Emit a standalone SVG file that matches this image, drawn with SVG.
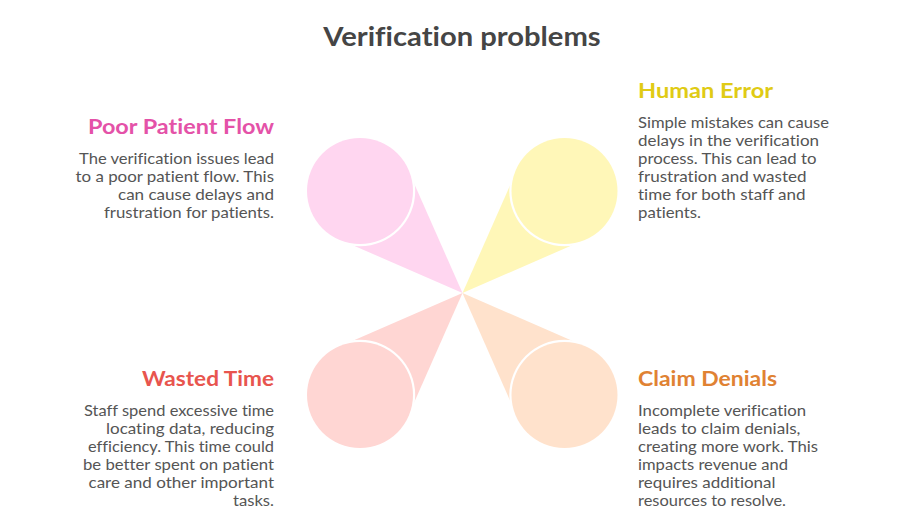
<svg xmlns="http://www.w3.org/2000/svg" width="924" height="519" viewBox="0 0 924 519">
<style>
text{font-family:"Lato","Open Sans",sans-serif;font-variant-ligatures:none}
.t{font-size:26px;font-weight:700;fill:#454545}
.h{font-size:21px;font-weight:700}
.b{font-size:15px;fill:#555}
.r{text-anchor:end}
.ring{fill:#fff}
.pink{fill:#FFD6F0}.yellow{fill:#FFF7B8}.orange{fill:#FFE2CC}.red{fill:#FFD6D3}
</style>
<rect width="924" height="519" fill="#fff"/>
<text class="t" x="323.3" y="46" textLength="277.4" lengthAdjust="spacingAndGlyphs">Verification problems</text>
<g id="connectors">
<polygon class="pink" points="462.5,293 413,181 350,244"/>
<polygon class="yellow" points="462.5,293 512,181 575,244"/>
<polygon class="orange" points="462.5,293 512,405 575,342"/>
<polygon class="red" points="462.5,293 413,405 350,342"/>
</g>
<g id="poor-patient-flow">
<circle class="ring" cx="360" cy="191" r="55.2"/><circle class="pink" cx="360" cy="191" r="53"/>
<text class="h r" x="274" y="133.5" fill="#E452A8" textLength="186" lengthAdjust="spacingAndGlyphs">Poor Patient Flow</text>
<text class="b r" x="274" y="164" textLength="195" lengthAdjust="spacingAndGlyphs">The verification issues lead</text>
<text class="b r" x="274" y="182" textLength="198.5" lengthAdjust="spacingAndGlyphs">to a poor patient flow. This</text>
<text class="b r" x="274" y="200" textLength="156" lengthAdjust="spacingAndGlyphs">can cause delays and</text>
<text class="b r" x="274" y="218" textLength="170" lengthAdjust="spacingAndGlyphs">frustration for patients.</text>
</g>
<g id="human-error">
<circle class="ring" cx="564.5" cy="191" r="55.2"/><circle class="yellow" cx="564.5" cy="191" r="53"/>
<text class="h" x="638" y="97.5" fill="#E0CB15" textLength="135" lengthAdjust="spacingAndGlyphs">Human Error</text>
<text class="b" x="638" y="128" textLength="191" lengthAdjust="spacingAndGlyphs">Simple mistakes can cause</text>
<text class="b" x="638" y="146" textLength="181" lengthAdjust="spacingAndGlyphs">delays in the verification</text>
<text class="b" x="638" y="164" textLength="178.5" lengthAdjust="spacingAndGlyphs">process. This can lead to</text>
<text class="b" x="638" y="182" textLength="168.5" lengthAdjust="spacingAndGlyphs">frustration and wasted</text>
<text class="b" x="638" y="200" textLength="167.5" lengthAdjust="spacingAndGlyphs">time for both staff and</text>
<text class="b" x="638" y="218" textLength="63" lengthAdjust="spacingAndGlyphs">patients.</text>
</g>
<g id="wasted-time">
<circle class="ring" cx="360" cy="395" r="55.2"/><circle class="red" cx="360" cy="395" r="53"/>
<text class="h r" x="274" y="385.5" fill="#E8554E" textLength="132" lengthAdjust="spacingAndGlyphs">Wasted Time</text>
<text class="b r" x="274" y="416" textLength="190" lengthAdjust="spacingAndGlyphs">Staff spend excessive time</text>
<text class="b r" x="274" y="434" textLength="168" lengthAdjust="spacingAndGlyphs">locating data, reducing</text>
<text class="b r" x="274" y="452" textLength="186" lengthAdjust="spacingAndGlyphs">efficiency. This time could</text>
<text class="b r" x="274" y="470" textLength="191" lengthAdjust="spacingAndGlyphs">be better spent on patient</text>
<text class="b r" x="274" y="488" textLength="185.5" lengthAdjust="spacingAndGlyphs">care and other important</text>
<text class="b r" x="274" y="506" textLength="41" lengthAdjust="spacingAndGlyphs">tasks.</text>
</g>
<g id="claim-denials">
<circle class="ring" cx="564.5" cy="395" r="55.2"/><circle class="orange" cx="564.5" cy="395" r="53"/>
<text class="h" x="638" y="385.5" fill="#E08233" textLength="139" lengthAdjust="spacingAndGlyphs">Claim Denials</text>
<text class="b" x="638" y="416" textLength="168" lengthAdjust="spacingAndGlyphs">Incomplete verification</text>
<text class="b" x="638" y="434" textLength="162.5" lengthAdjust="spacingAndGlyphs">leads to claim denials,</text>
<text class="b" x="638" y="452" textLength="180" lengthAdjust="spacingAndGlyphs">creating more work. This</text>
<text class="b" x="638" y="470" textLength="150" lengthAdjust="spacingAndGlyphs">impacts revenue and</text>
<text class="b" x="638" y="488" textLength="137.5" lengthAdjust="spacingAndGlyphs">requires additional</text>
<text class="b" x="638" y="506" textLength="148" lengthAdjust="spacingAndGlyphs">resources to resolve.</text>
</g>
</svg>
